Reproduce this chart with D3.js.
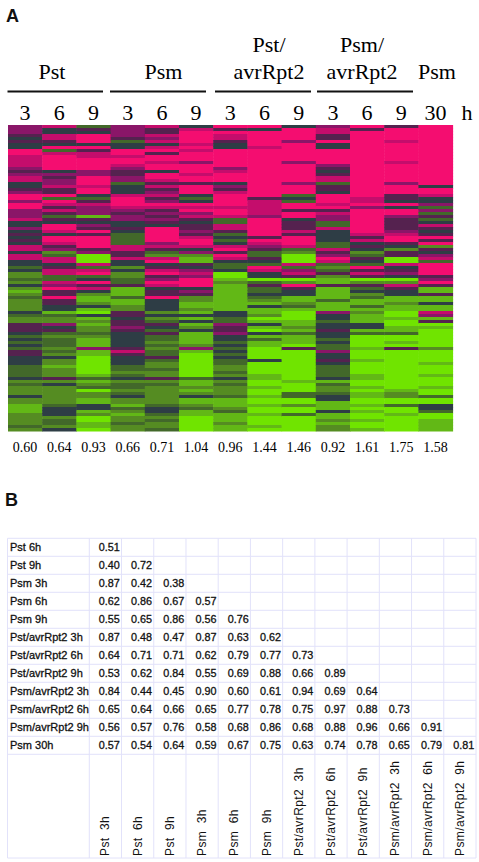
<!DOCTYPE html>
<html>
<head>
<meta charset="utf-8">
<script src="https://d3js.org/d3.v7.min.js"></script>
<style>
  html, body { margin: 0; padding: 0; background: #fff; }
  svg { display: block; }
  .serif { font-family: "Liberation Serif", serif; fill: #000; }
  .sans { font-family: "Liberation Sans", Arial, sans-serif; fill: #111; }
</style>
</head>
<body>
<script>
// panel A: one string per column, one digit per gene row
// 0 = bright green, 4 = dark, 8 = hot pink
var pst3 = "6665454488 7777656774 4568868866 6744645454 7747744342 2324212322 2243225554 3434355444 3333423222 422111 222232";
var pst6 = "7447754837 8888846566 7558387575 3548874887 5623774577 3376855855 4413226453 2333232422 1222524222 222344 423324";
var pst9 = "3548884857 7888866888 7884357666 1546585888 8560007378 3485742112 4104121223 2111611000 0001312302 211441 200110";
var psm3 = "6666534488 7887655663 4447888765 6644543333 7755744242 2335111311 2255455654 4444575444 3323423323 422132 122322";
var psm6 = "7557674785 8878848875 7567568756 5654888886 7532784578 5687455844 4424235435 3323233532 2322523222 222344 323223";
var psm9 = "4788887878 8868887885 8884348786 7545565788 7462115467 6888465221 1214141241 1112610000 0000311212 411231 100000";
var pstAvr3 = "8587754488 8888678884 6578888788 7337753434 7858743340 0121111111 1144336556 4434343433 2232423222 311123 111211";
var pstAvr6 = "8488888788 8888888888 8888577777 6888888587 6533543874 4035334321 4112014104 1311000040 0001100100 100100 100010";
var pstAvr9 = "4888868888 8868888886 8883438858 8455575888 7320007367 5028544112 3100011213 1110500000 0000010003 300200 300000";
var psmAvr3 = "6775584488 8886545773 5548887857 6633744443 3756873235 2115111131 1164434454 4343364454 3333413223 441114 112122";
var psmAvr6 = "8588888888 8888888888 8888778688 8888887574 5423543857 5025342311 3121114413 0000100010 0001100101 100101 001001";
var psmAvr9 = "5888878888 8878888886 8885548488 6555567885 4255007456 4027544112 1100100113 0010500000 0000000012 200300 100000";
var psm30 = "8888888888 8888888888 4887446363 5347545858 2546738888 5685115114 1176150100 0000200001 0001000100 300443 001111";
var heatColumns = [pst3, pst6, pst9, psm3, psm6, psm9, pstAvr3, pstAvr6, pstAvr9, psmAvr3, psmAvr6, psmAvr9, psm30];

var timeLabels = ["3", "6", "9", "3", "6", "9", "3", "6", "9", "3", "6", "9", "30"];
var heatTotals = [0.60, 0.64, 0.93, 0.66, 0.71, 1.04, 0.96, 1.44, 1.46, 0.92, 1.61, 1.75, 1.58];

// panel B: lower triangle of the correlation table
var rowLabels = ["Pst 6h", "Pst 9h", "Psm 3h", "Psm 6h", "Psm 9h", "Pst/avrRpt2 3h", "Pst/avrRpt2 6h",
                 "Pst/avrRpt2 9h", "Psm/avrRpt2 3h", "Psm/avrRpt2 6h", "Psm/avrRpt2 9h", "Psm 30h"];
var colLabels = ["Pst  3h", "Pst  6h", "Pst  9h", "Psm  3h", "Psm  6h", "Psm  9h", "Pst/avrRpt2  3h", "Pst/avrRpt2  6h",
                 "Pst/avrRpt2  9h", "Psm/avrRpt2  3h", "Psm/avrRpt2  6h", "Psm/avrRpt2  9h"];
var corr = [
  [0.51],
  [0.40, 0.72],
  [0.87, 0.42, 0.38],
  [0.62, 0.86, 0.67, 0.57],
  [0.55, 0.65, 0.86, 0.56, 0.76],
  [0.87, 0.48, 0.47, 0.87, 0.63, 0.62],
  [0.64, 0.71, 0.71, 0.62, 0.79, 0.77, 0.73],
  [0.53, 0.62, 0.84, 0.55, 0.69, 0.88, 0.66, 0.89],
  [0.84, 0.44, 0.45, 0.90, 0.60, 0.61, 0.94, 0.69, 0.64],
  [0.65, 0.64, 0.66, 0.65, 0.77, 0.78, 0.75, 0.97, 0.88, 0.73],
  [0.56, 0.57, 0.76, 0.58, 0.68, 0.86, 0.68, 0.88, 0.96, 0.66, 0.91],
  [0.57, 0.54, 0.64, 0.59, 0.67, 0.75, 0.63, 0.74, 0.78, 0.65, 0.79, 0.81]
];

var svg = d3.select("body").append("svg").attr("width", 479).attr("height", 862);

/* panel A */
var columns = heatColumns.map(function (s) {
  return s.replace(/ /g, "").split("").map(Number);
});
var x = d3.scaleBand().domain(d3.range(columns.length)).range([8, 452.6]);
var y = d3.scaleBand().domain(d3.range(columns[0].length)).range([125, 431]);
var color = d3.scaleLinear()
  .domain([0, 1, 2, 3, 4, 5, 6, 7, 8])
  .range(["#70e400", "#62b812", "#548c20", "#42682c", "#2f3c44", "#54234f", "#8a1268", "#c40c6c", "#f40a70"]);

svg.append("defs").append("filter").attr("id", "soft")
  .append("feGaussianBlur").attr("stdDeviation", "0.6 0.45");

var heat = svg.append("g").attr("filter", "url(#soft)");
columns.forEach(function (col, i) {
  heat.append("g").selectAll("rect")
    .data(col)
    .enter().append("rect")
      .attr("x", x(i))
      .attr("y", function (d, r) { return y(r); })
      .attr("width", x.bandwidth() + 0.5)
      .attr("height", y.bandwidth() + 0.5)
      .attr("fill", function (d) { return color(d); });
});

svg.append("text").attr("class", "sans").attr("x", 6).attr("y", 21.5)
  .style("font-size", "18px").style("font-weight", "bold").text("A");

// group labels over the columns
var groups = [
  { lines: ["Pst"], cx: 52, from: 7.5, to: 103 },
  { lines: ["Psm"], cx: 163.5, from: 110, to: 206 },
  { lines: ["Pst/", "avrRpt2"], cx: 269, from: 215, to: 311 },
  { lines: ["Psm/", "avrRpt2"], cx: 362, from: 317, to: 413 },
  { lines: ["Psm"], cx: 437 }
];
groups.forEach(function (g) {
  g.lines.slice().reverse().forEach(function (t, k) {
    svg.append("text").attr("class", "serif")
      .attr("x", g.cx).attr("y", 79 - k * 27)
      .attr("text-anchor", "middle")
      .style("font-size", "22px")
      .text(t);
  });
  if (g.from) {
    svg.append("line")
      .attr("x1", g.from).attr("x2", g.to)
      .attr("y1", 91.5).attr("y2", 91.5)
      .attr("stroke", "#111").attr("stroke-width", 2);
  }
});

svg.append("g").selectAll("text")
  .data(timeLabels)
  .enter().append("text")
    .attr("class", "serif")
    .attr("x", function (d, i) { return x(i) + x.bandwidth() / 2; })
    .attr("y", 120)
    .attr("text-anchor", "middle")
    .style("font-size", "22px")
    .text(function (d) { return d; });
svg.append("text").attr("class", "serif").attr("x", 467).attr("y", 120)
  .attr("text-anchor", "middle").style("font-size", "22px").text("h");

svg.append("g").selectAll("text")
  .data(heatTotals)
  .enter().append("text")
    .attr("class", "serif")
    .attr("x", function (d, i) { return x(i) + x.bandwidth() / 2; })
    .attr("y", 452)
    .attr("text-anchor", "middle")
    .style("font-size", "14px")
    .text(function (d) { return d3.format(".2f")(d); });

/* panel B */
svg.append("text").attr("class", "sans").attr("x", 5).attr("y", 505.5)
  .style("font-size", "18px").style("font-weight", "bold").text("B");

var tx = d3.scaleBand().domain(d3.range(colLabels.length)).range([89.3, 476]);
var ty = d3.scaleBand().domain(d3.range(rowLabels.length)).range([538.3, 754.3]);
var tableBottom = 858;
var gridColor = "#e2e2fa";

var grid = svg.append("g").attr("stroke", gridColor).attr("stroke-width", 1);
ty.domain().concat([rowLabels.length]).forEach(function (r) {
  var yy = r < rowLabels.length ? ty(r) : ty.range()[1];
  grid.append("line").attr("x1", 7.5).attr("x2", 476).attr("y1", yy).attr("y2", yy);
});
grid.append("line").attr("x1", 7.5).attr("x2", 476).attr("y1", tableBottom).attr("y2", tableBottom);
grid.append("line").attr("x1", 7.5).attr("x2", 7.5).attr("y1", 538.3).attr("y2", tableBottom);
tx.domain().concat([colLabels.length]).forEach(function (c) {
  var xx = c < colLabels.length ? tx(c) : tx.range()[1];
  grid.append("line").attr("x1", xx).attr("x2", xx).attr("y1", 538.3).attr("y2", tableBottom);
});

svg.append("g").selectAll("text")
  .data(rowLabels)
  .enter().append("text")
    .attr("class", "sans")
    .attr("x", 10)
    .attr("y", function (d, i) { return ty(i) + ty.bandwidth() / 2 + 4; })
    .attr("stroke", "#111").attr("stroke-width", 0.3)
    .style("font-size", "11px")
    .text(function (d) { return d; });

corr.forEach(function (row, r) {
  svg.append("g").selectAll("text")
    .data(row)
    .enter().append("text")
      .attr("class", "sans")
      .attr("x", function (d, c) { return tx(c) + 9.5; })
      .attr("y", ty(r) + ty.bandwidth() / 2 + 4)
      .attr("stroke", "#111").attr("stroke-width", 0.3)
      .style("font-size", "10.8px")
      .text(function (d) { return d3.format(".2f")(d); });
});

svg.append("g").selectAll("text")
  .data(colLabels)
  .enter().append("text")
    .attr("class", "sans")
    .attr("transform", function (d, i) {
      return "translate(" + (tx(i) + tx.bandwidth() / 2 + 4) + "," + (tableBottom - 2) + ") rotate(-90)";
    })
    .style("white-space", "pre")
    .style("font-size", "12px")
    .style("letter-spacing", "0.4px")
    .text(function (d) { return d; });
</script>
</body>
</html>
